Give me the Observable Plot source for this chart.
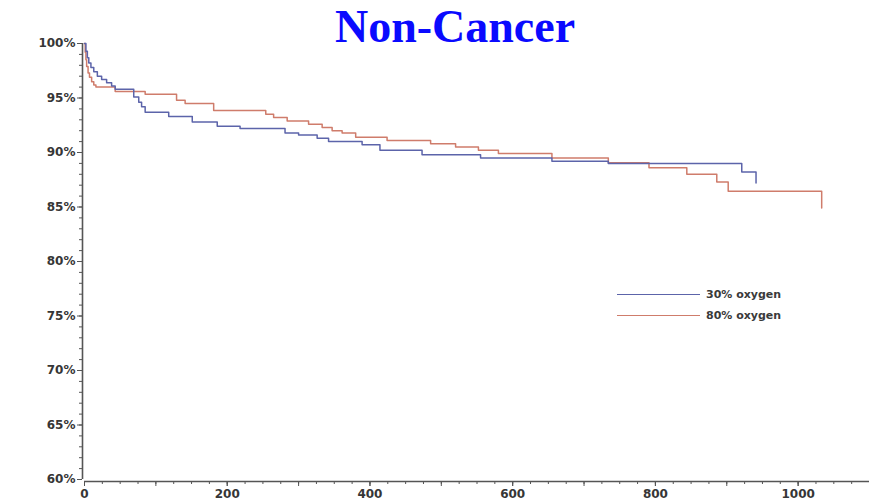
<!DOCTYPE html>
<html>
<head>
<meta charset="utf-8">
<script src="https://cdn.jsdelivr.net/npm/d3@7"></script>
<script src="https://cdn.jsdelivr.net/npm/@observablehq/plot@0.6"></script>
<style>
  body { margin: 0; background: #fff; }
  #wrap { position: relative; width: 869px; height: 504px; overflow: hidden; }
  #title {
    position: absolute; left: 0; top: 0; width: 869px; padding-left: 41px; box-sizing: border-box;
    text-align: center; white-space: nowrap;
    font: bold 46px "Liberation Serif", "Times New Roman", serif; color: #0a0aff;
  }
  #legend {
    position: absolute; left: 617px; top: 284px;
    font: bold 11px "DejaVu Sans", sans-serif; color: #3a3a3a;
  }
  #legend .row { display: flex; align-items: center; height: 21px; }
  #legend .swatch { width: 83px; height: 0; border-top: 1.5px solid; margin-right: 6px; }
</style>
</head>
<body>
<div id="wrap">
  <div id="chart"></div>
  <div id="title">Non-Cancer</div>
  <div id="legend"></div>
</div>
<script>
// Kaplan-Meier survival, non-cancer deaths, by oxygen group (days vs. % surviving)
const groups = ["30% oxygen", "80% oxygen"];
const groupColors = ["#5c64aa", "#cf7c6b"];

const days30 = [0, 2, 4, 6, 9, 13, 18, 24, 31, 38, 43, 69, 76, 80, 85, 118, 151, 186, 218, 281, 300, 326, 342, 389, 414, 473, 555, 655, 734, 921, 941];
const surv30 = [100, 99.3, 98.7, 98.2, 97.8, 97.4, 97.0, 96.7, 96.4, 96.1, 95.8, 95.1, 94.6, 94.2, 93.7, 93.3, 92.8, 92.4, 92.2, 91.8, 91.6, 91.3, 91.0, 90.7, 90.2, 89.8, 89.5, 89.2, 89.0, 88.2, 87.2];

const days80 = [0, 1, 2, 3, 5, 7, 10, 13, 16, 43, 85, 129, 141, 181, 254, 265, 284, 314, 333, 347, 361, 380, 424, 485, 520, 552, 580, 655, 734, 791, 844, 886, 902, 1033];
const surv80 = [100, 99.2, 98.5, 97.9, 97.3, 96.9, 96.5, 96.2, 96.0, 95.6, 95.35, 94.8, 94.5, 93.85, 93.5, 93.2, 92.9, 92.6, 92.3, 92.0, 91.8, 91.4, 91.1, 90.8, 90.5, 90.2, 89.9, 89.5, 89.05, 88.6, 88.0, 87.3, 86.45, 84.9];

const yMajor = d3.range(60, 101, 5);
const yMinor = d3.range(60, 101, 1);
const xLabeled = d3.range(0, 1001, 200);
const xMid = d3.range(0, 1101, 100);
const xMinor = d3.range(0, 1101, 25);

const rows = [
  ...days80.map((d, i) => ({day: d, surv: surv80[i], group: groups[1]})),
  ...days30.map((d, i) => ({day: d, surv: surv30[i], group: groups[0]}))
];

const axisStroke = "#555";
const blank = () => "";

const chart = Plot.plot({
  width: 869,
  height: 504,
  marginLeft: 84,
  marginRight: 0,
  marginTop: 43,
  marginBottom: 25,
  style: {fontFamily: "DejaVu Sans", fontSize: "12px", fontWeight: "bold", color: "#363636", background: "white"},
  x: {domain: [0, 1100], label: null},
  y: {domain: [60, 100], label: null},
  color: {domain: groups, range: groupColors},
  marks: [
    Plot.axisY(yMinor, {tickSize: 3, tickFormat: blank, stroke: axisStroke, dx: -2}),
    Plot.axisY(yMajor, {tickSize: 5, tickPadding: 2, stroke: axisStroke, dx: -2, fontSize: 12, tickFormat: d => d + "%"}),
    Plot.axisX(xMinor, {tickSize: 3, tickFormat: blank, stroke: axisStroke, dy: 2}),
    Plot.axisX(xMid, {tickSize: 5, tickFormat: blank, stroke: axisStroke, dy: 2}),
    Plot.axisX(xLabeled, {tickSize: 5, tickPadding: 3, stroke: axisStroke, dy: 2, fontSize: 12, tickFormat: d => String(d)}),
    Plot.ruleX([0], {stroke: axisStroke, strokeWidth: 1.6, dx: -2}),
    Plot.ruleY([60], {stroke: axisStroke, strokeWidth: 1.6, dy: 2}),
    Plot.line(rows, {x: "day", y: "surv", z: "group", stroke: "group", curve: "step-after", strokeWidth: 1.5})
  ]
});
document.getElementById("chart").append(chart);

// legend: a line swatch and label for each group
const legend = d3.select("#legend");
groups.forEach((g, i) => {
  const row = legend.append("div").attr("class", "row");
  row.append("span").attr("class", "swatch").style("border-color", groupColors[i]);
  row.append("span").text(g);
});
</script>
</body>
</html>
